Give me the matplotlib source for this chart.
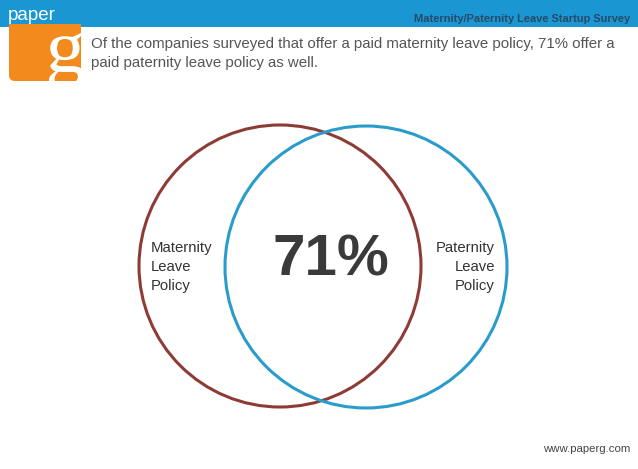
import matplotlib
matplotlib.use("Agg")
import matplotlib.pyplot as plt
from matplotlib.patches import Circle, Rectangle, FancyBboxPatch, PathPatch
from matplotlib.textpath import TextPath
from matplotlib.font_manager import FontProperties
from matplotlib.transforms import Affine2D

# ---- data ----
set_names = ["Maternity\nLeave\nPolicy", "Paternity\nLeave\nPolicy"]
overlap_pct = 71
header_title = "Maternity/Paternity Leave Startup Survey"
subtitle = ("Of the companies surveyed that offer a paid maternity leave policy, 71% offer a\n"
            "paid paternity leave policy as well.")
brand = "paper"
brand_letter = "g"
footer = "www.paperg.com"

W, H = 638, 469
fig = plt.figure(figsize=(W / 100, H / 100), dpi=100)
ax = fig.add_axes([0, 0, 1, 1])
ax.set_xlim(0, W)
ax.set_ylim(H, 0)
ax.set_aspect("equal")
ax.axis("off")

FONT = ["Liberation Sans", "DejaVu Sans"]

# header bar
ax.add_patch(Rectangle((0, 0), W, 27, facecolor="#1a96d2", edgecolor="none", zorder=1))
ax.text(8, 15, brand, color="white", fontsize=13.5, family=FONT, va="center", ha="left", zorder=3)
ax.text(630, 19, header_title, color="#284a68", fontsize=7.9, fontweight="bold",
        family=["Liberation Sans Narrow", "Liberation Sans", "DejaVu Sans"],
        va="center", ha="right", zorder=3)

# orange logo box (rounded bottom-left corner only)
box = FancyBboxPatch((9, 24), 72, 57, boxstyle="round,pad=0,rounding_size=6",
                     facecolor="#f28a1e", edgecolor="none", zorder=2)
ax.add_patch(box)
ax.add_patch(Rectangle((9, 24), 72, 20, facecolor="#f28a1e", edgecolor="none", zorder=2))
ax.add_patch(Rectangle((60, 24), 21, 57, facecolor="#f28a1e", edgecolor="none", zorder=2))
clip_rect = Rectangle((9, 24), 72, 57, facecolor="none", edgecolor="none", zorder=0)
ax.add_patch(clip_rect)

# big serif "g" in the logo, clipped to the box
tp = TextPath((0, 0), brand_letter, size=1, prop=FontProperties(family=["Liberation Serif", "DejaVu Serif"]))
ext = tp.get_extents()
gx0, gx1, gtop, gbot = 49, 84, 33, 88
sx = (gx1 - gx0) / ext.width
sy = (gbot - gtop) / ext.height
tr = Affine2D().translate(-ext.x0, -ext.y1).scale(sx, -sy).translate(gx0, gtop) + ax.transData
gp = PathPatch(tp, facecolor="white", edgecolor="none", transform=tr, zorder=3)
ax.add_patch(gp)
gp.set_clip_path(clip_rect)

# subtitle
ax.text(91, 53.5, subtitle, color="#555555", fontsize=10.8, family=FONT, va="center", ha="left",
        linespacing=1.45, zorder=3)

# venn circles
r = 141
c1 = (280, 266)
c2 = (366, 267)
ax.add_patch(Circle(c1, r, fill=False, edgecolor="#8e3b36", linewidth=2.2, zorder=4))
ax.add_patch(Circle(c2, r, fill=False, edgecolor="#2a9ccb", linewidth=2.2, zorder=5))

ax.text(151, 267, set_names[0], color="#333333", fontsize=10.7, family=FONT, ha="left", va="center",
        linespacing=1.42, zorder=6)
ax.text(495, 267, set_names[1], color="#333333", fontsize=10.7, family=FONT, ha="right", va="center",
        multialignment="right", linespacing=1.42, zorder=6)
ax.text(331, 261, f"{overlap_pct}%", color="#3a3a3a", fontsize=42, fontweight="bold", family=FONT,
        ha="center", va="center", zorder=6)

ax.text(630, 449, footer, color="#444444", fontsize=8.2, family=FONT, ha="right", va="center", zorder=3)

fig.savefig("out.png", dpi=100, facecolor="white")
